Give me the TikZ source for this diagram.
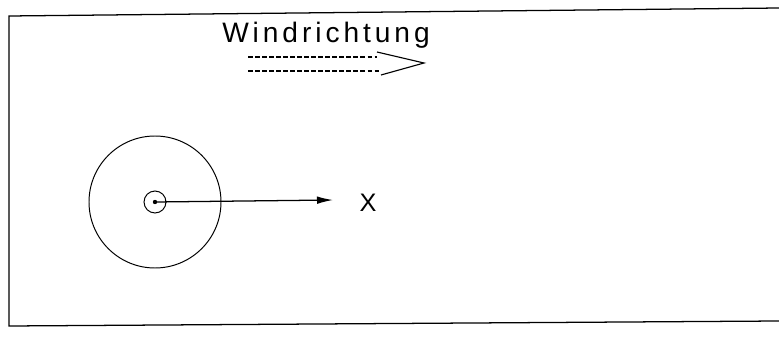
\documentclass[tikz,border=0pt]{standalone}
\usepackage{fontspec}
\setmainfont{Liberation Sans}
\newfontfamily\isofont[LetterSpace=14]{Liberation Sans}
\usepackage{tikz}
\usetikzlibrary{arrows.meta}

\begin{document}
\begin{tikzpicture}[x=0.025cm, y=-0.025cm, font=\rmfamily]

% ---- Define Styles ----
\tikzset{
  frameline/.style={draw=black, line width=0.9pt},
  ring/.style={draw=black, line width=0.7pt},
  windline/.style={draw=black, line width=1.1pt, dash pattern=on 3.4pt off 1.6pt},
  windhead/.style={draw=black, line width=0.8pt},
  axisarrow/.style={draw=black, line width=0.9pt, -{Latex[length=4mm, width=1.9mm]}},
  label/.style={inner sep=0pt, text=black, font=\isofont\fontsize{20}{20}\selectfont}
}

% fixed picture size (pixels of the reference)
\useasboundingbox (0,0) rectangle (779,348);

% =========================================================
% FRAME (open on the right)
% =========================================================
\coordinate (ftr) at (779, 8);
\coordinate (ftl) at (9, 16);
\coordinate (fbl) at (9, 326);
\coordinate (fbr) at (779, 321);
\draw[frameline] (ftr) -- (ftl) -- (fbl) -- (fbr);

% =========================================================
% WIND DIRECTION
% =========================================================
\node[label, anchor=base west] (wind) at (222, 43) {Windrichtung};

\coordinate (w1s) at (248, 57);
\coordinate (w1e) at (377, 57);
\coordinate (w2s) at (248, 71);
\coordinate (w2e) at (380, 71);
\coordinate (wup) at (377, 52);
\coordinate (wlo) at (381, 75);
\coordinate (wtip) at (424, 63);
\draw[windline] (w1s) -- (w1e);
\draw[windline] (w2s) -- (w2e);
\draw[windhead] (wup) -- (wtip) -- (wlo);

% =========================================================
% SOURCE WITH CIRCLES AND X-AXIS
% =========================================================
\coordinate (src) at (155, 202);
\draw[ring] (src) circle[radius=66];
\draw[ring] (src) circle[radius=11];
\fill (src) circle[radius=2.2];

\node[label, font=\isofont\fontsize{18}{18}\selectfont] (xlab) at (368, 203) {X};
\coordinate (xend) at (333, 200);
\draw[axisarrow] (src) -- (xend);

\end{tikzpicture}
\end{document}
